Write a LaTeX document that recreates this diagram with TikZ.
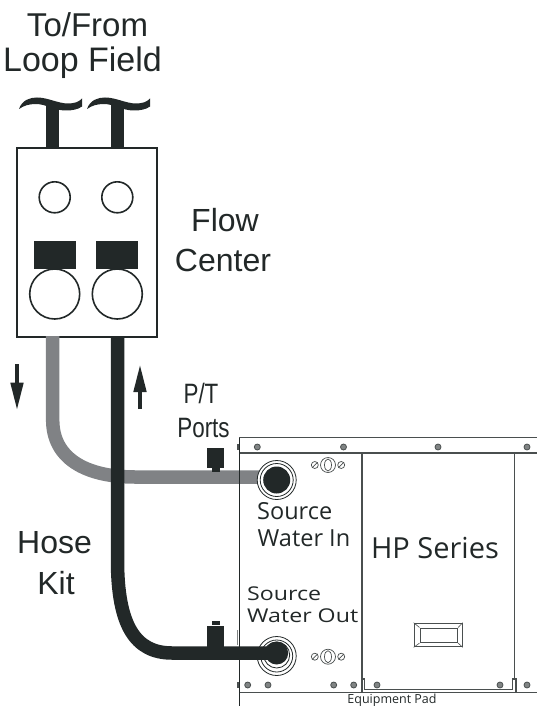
\documentclass[tikz,border=0pt]{standalone}
\usepackage{fontspec}
\setmainfont{Liberation Sans}
\newfontfamily\unitfont{Open Sans}
\usetikzlibrary{arrows.meta, shapes.geometric, positioning}
\definecolor{hosedark}{HTML}{222828}
\definecolor{hosegrey}{HTML}{808285}
\definecolor{linegrey}{HTML}{4A4F4F}
\tikzset{
	hose/.style={draw=hosedark, line width=13.5pt},
	hosepale/.style={draw=hosegrey, line width=13.5pt},
	gauge/.style={circle, draw=hosedark, line width=1.6pt, fill=white, minimum size=31pt, inner sep=0pt},
	pump/.style={circle, draw=hosedark, line width=1.6pt, fill=white, minimum size=50pt, inner sep=0pt},
	block/.style={rectangle, fill=hosedark, inner sep=0pt},
	ring/.style={circle, draw=hosedark, line width=.8pt, fill=white, inner sep=0pt},
	screw/.style={circle, draw=linegrey, line width=.8pt, fill=linegrey!70, minimum size=6pt, inner sep=0pt},
	dial/.style={circle, draw=linegrey, line width=.7pt, fill=white, inner sep=0pt},
	flowarrow/.style={draw=hosedark, line width=4.5pt, -{Triangle[length=28pt,width=12pt]}},
	panel/.style={draw=linegrey, line width=1.1pt},
	biglabel/.style={font=\fontsize{32}{32}\selectfont, text=hosedark, inner sep=0pt},
	unitlabel/.style={font=\unitfont\fontsize{23.5}{23.5}\selectfont, text=hosedark, inner sep=0pt, anchor=west}
}

\begin{document}
\begin{tikzpicture}[x=1pt,y=-1pt]
	\useasboundingbox (0,0) rectangle (537,706);

	% Hoses behind everything
	\node[rectangle, draw=hosedark, line width=2pt, fill=white, minimum width=140pt, minimum height=189pt, inner sep=0pt] (flow) at (86.5,242.5) {};
	\coordinate (bend-1) at (52.7,336);
	\coordinate (bend-2) at (117.5,336);
	\coordinate (in-port) at (276.7,477);
	\coordinate (out-port) at (276.7,653);
	\draw[hosepale] (bend-1) -- (52.7,420) .. controls (52.7,458) and (85,477) .. (135,477) -- (in-port);

	% Top hoses and tildes
	\foreach \i/\x in {1/52.7,2/117.3}
	\coordinate (top-\i) at (\x,104);
	\draw[hose] (top-1) -- (52.7,148);
	\draw[hose] (top-2) -- (117.3,148);
	\foreach \s in {0,68}
	\fill[hosedark, xshift=\s pt] (19,109) .. controls (22,100) and (30,97.5) .. (37,97.5)
		.. controls (48,97.5) and (58,103.5) .. (68,103.5) .. controls (74,103.5) and (79,102) .. (82,98.5)
		-- (82,106.5) .. controls (78,109.5) and (72,110.5) .. (66,110.5)
		.. controls (54,110.5) and (46,104) .. (36,104) .. controls (29,104) and (24,105.5) .. (19,109) -- cycle;

	% Flow center
	\node[gauge] (G-1) at (54.7,197.3) {};
	\node[gauge] (G-2) at (117.3,197.3) {};
	\node[block, minimum width=42pt, minimum height=28.5pt] (B-1) at (54.7,255.2) {};
	\node[block, minimum width=42pt, minimum height=28.5pt] (B-2) at (117.3,255.2) {};
	\node[pump] (P-1) at (54.7,294) {};
	\node[pump] (P-2) at (117.3,294) {};

	% Arrows
	\coordinate (down-a) at (17,364);
	\coordinate (down-b) at (17,410.7);
	\coordinate (up-a) at (140,409);
	\coordinate (up-b) at (140,364);
	\draw[flowarrow] (down-a) -- (down-b);
	\draw[flowarrow] (up-a) -- (up-b);

	% P/T ports
	\node[block, minimum width=17pt, minimum height=20pt] (T-1) at (215.5,458) {};
	\node[block, minimum width=8pt, minimum height=4pt, below=0pt of T-1] (N-1) {};
	\node[block, minimum width=17pt, minimum height=21pt] (T-2) at (215.5,636) {};
	\node[block, minimum width=8pt, minimum height=4pt, above=0pt of T-2] (N-2) {};

	% HP unit
	\draw[panel] (239.3,437.7) -- (537,437.7);
	\draw[panel] (239.3,453) -- (537,453);
	\draw[panel] (239.3,692.7) -- (537,692.7);
	\draw[draw=hosedark, line width=.8pt] (239.3,437.7) -- (239.3,706);
	\draw[draw=linegrey!70, line width=1.2pt] (237.8,630) -- (237.8,645);
	\fill[linegrey] (236.5,444) rectangle (238.8,450);
	\fill[linegrey] (236.5,682) rectangle (238.8,688);
	\draw[panel, line width=1.5pt] (362,453) -- (362,692.7);
	\draw[panel, line width=1.5pt] (514.3,453) -- (514.3,679);
	\draw[panel] (364.5,679) -- (364.5,689.5) -- (512.7,689.5) -- (512.7,679) -- (516,679) -- (516,692.7);
	\draw[panel] (362,679) -- (364.5,679);
	\foreach \i/\x in {1/257.3,2/343.5,3/438,4/527}
	\node[screw] (ST-\i) at (\x,447) {};
	\foreach \i/\x in {1/247.7,2/268,3/333.7,4/353.7,5/377,6/500,7/527}
	\node[screw] (SB-\i) at (\x,685) {};

	% Handle
	\node[rectangle, draw=linegrey, line width=1.1pt, minimum width=48pt, minimum height=23.5pt, inner sep=0pt] (handle) at (438.2,635) {};
	\node[rectangle, draw=linegrey, line width=1.1pt, minimum width=37.5pt, minimum height=14.5pt, inner sep=0pt] (slot) at (438.8,635.3) {};
	\foreach \c in {north west,north east,south west,south east}
	\draw[draw=linegrey, line width=.6pt] (handle.\c) -- (slot.\c);

	% Dials
	\foreach \i/\y in {1/465,2/656.7} {
		\node[dial, minimum size=15pt] (D-\i) at (328,\y) {};
		\node[draw=linegrey, line width=.7pt, ellipse, minimum width=7pt, minimum height=12pt, inner sep=0pt] (E-\i) at (D-\i) {};
		\node[dial, minimum size=7pt, left=1.5pt of D-\i] (L-\i) {};
		\node[dial, minimum size=7pt, right=1.5pt of D-\i] (R-\i) {};
		\draw[draw=linegrey, line width=.7pt] (L-\i.south west) -- (L-\i.north east);
		\draw[draw=linegrey, line width=.7pt] (R-\i.south west) -- (R-\i.north east);
	}

	% Fittings
	\node[ring, minimum size=39pt] (F-1) at (276.7,480) {};
	\node[ring, minimum size=33pt] (H-1) at (F-1) {};
	\node[circle, fill=hosedark, minimum size=27pt, inner sep=0pt] (K-1) at (F-1) {};
	\node[ring, minimum size=39pt] (F-2) at (276.7,656) {};
	\node[ring, minimum size=32pt] (H-2) at (F-2) {};
	\node[ring, minimum size=26pt] (J-2) at (276.7,655) {};
	\node[circle, fill=hosedark, minimum size=23pt, inner sep=0pt] (K-2) at (out-port) {};

	% Lower hose on top
	\draw[hose] (bend-2) -- (117.5,560) .. controls (117.5,625) and (135,653) .. (172,653) -- (out-port);

	% Labels
	\node[biglabel, font=\fontsize{33}{33}\selectfont] (label1) at (87.5,25) {To/From};
	\node[biglabel, font=\fontsize{34}{34}\selectfont] (label2) at (82.5,63) {Loop Field};
	\node[biglabel] (label3) at (225,220) {Flow};
	\node[biglabel] (label4) at (223,260) {Center};
	\node[biglabel] (label5) at (54.5,543) {Hose};
	\node[biglabel] (label6) at (56,583) {Kit};
	\node[biglabel, font=\fontsize{28}{28}\selectfont] (label7) at (201,393) {\scalebox{.8}[1]{P/T}};
	\node[biglabel, font=\fontsize{28}{28}\selectfont] (label8) at (203.5,428) {\scalebox{.8}[1]{Ports}};
	\node[unitlabel] (label9) at (257,511) {Source};
	\node[unitlabel] (label10) at (257.5,538) {Water In};
	\node[unitlabel, font=\unitfont\fontsize{19}{19}\selectfont] (label11) at (247,594) {\scalebox{1.22}[1]{Source}};
	\node[unitlabel, font=\unitfont\fontsize{19}{19}\selectfont] (label12) at (247,616) {\scalebox{1.22}[1]{Water Out}};
	\node[unitlabel, font=\unitfont\fontsize{29}{29}\selectfont, anchor=center] (label13) at (435,548) {HP Series};
	\node[unitlabel, font=\unitfont\fontsize{12.5}{12.5}\selectfont, anchor=center] (label14) at (392,700) {Equipment Pad};
\end{tikzpicture}
\end{document}
